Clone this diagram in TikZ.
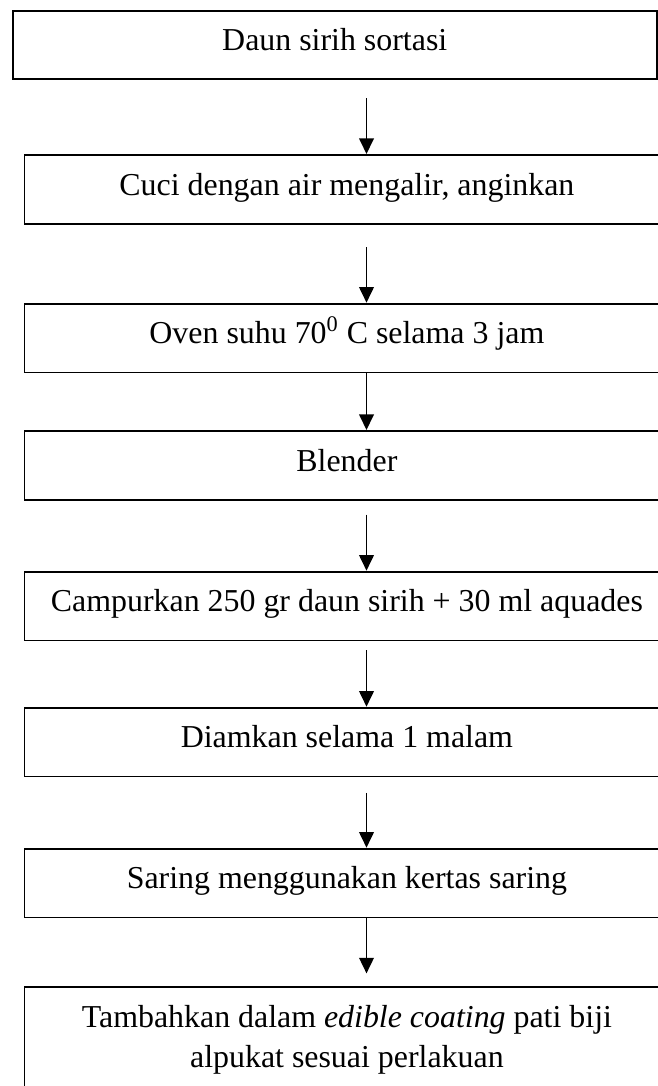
\documentclass[tikz,border=0pt]{standalone}
\usepackage{fontspec}
\setmainfont{Liberation Serif}
\usetikzlibrary{arrows.meta}
\begin{document}
\begin{tikzpicture}[
		x=0.5pt, y=-0.5pt,
		box/.style={draw, line width=0.9pt, inner sep=0pt, anchor=north west, align=center,
				minimum width=322.5pt, minimum height=34.4pt, text height=9pt, text depth=3.2pt,
				font=\fontsize{15.95}{20}\selectfont},
		arr/.style={-{Triangle[length=7.8pt,width=7.3pt]}, line width=0.9pt}
	]
	\useasboundingbox (0,0) rectangle (658,1086);
	\clip (0,0) rectangle (658,1086);
	\coordinate (ax) at (366.5,0);
	% steps
	\node[box, minimum width=322.15pt, minimum height=34.15pt] (sortasi) at (11.7,10) {Daun sirih sortasi};
	\node[box] (cuci) at (23.5,154) {Cuci dengan air mengalir, anginkan};
	\node[box] (oven) at (23.5,302.7) {Oven suhu 70\textsuperscript{0} C selama 3 jam};
	\node[box] (blender) at (23.5,430) {Blender};
	\node[box] (campur) at (23.5,570.7) {Campurkan 250 gr daun sirih + 30 ml aquades};
	\node[box] (diam) at (23.5,706.7) {Diamkan selama 1 malam};
	\node[box] (saring) at (23.5,847.7) {Saring menggunakan kertas saring};
	\node[box, text height=40.35pt, text depth=15pt] (tambah) at (23.5,986)
		{Tambahkan dalam \textit{edible coating} pati biji\\alpukat sesuai perlakuan};
	% arrows
	\draw[arr, shorten <=9.2pt] (sortasi.south -| ax) -- (cuci.north -| ax);
	\draw[arr, shorten <=11.2pt] (cuci.south -| ax) -- (oven.north -| ax);
	\draw[arr] (oven.south -| ax) -- (blender.north -| ax);
	\draw[arr, shorten <=7pt] (blender.south -| ax) -- (campur.north -| ax);
	\draw[arr, shorten <=4.5pt] (campur.south -| ax) -- (diam.north -| ax);
	\draw[arr, shorten <=7.8pt] (diam.south -| ax) -- (saring.north -| ax);
	\draw[arr, shorten >=6.3pt] (saring.south -| ax) -- (tambah.north -| ax);
\end{tikzpicture}
\end{document}
